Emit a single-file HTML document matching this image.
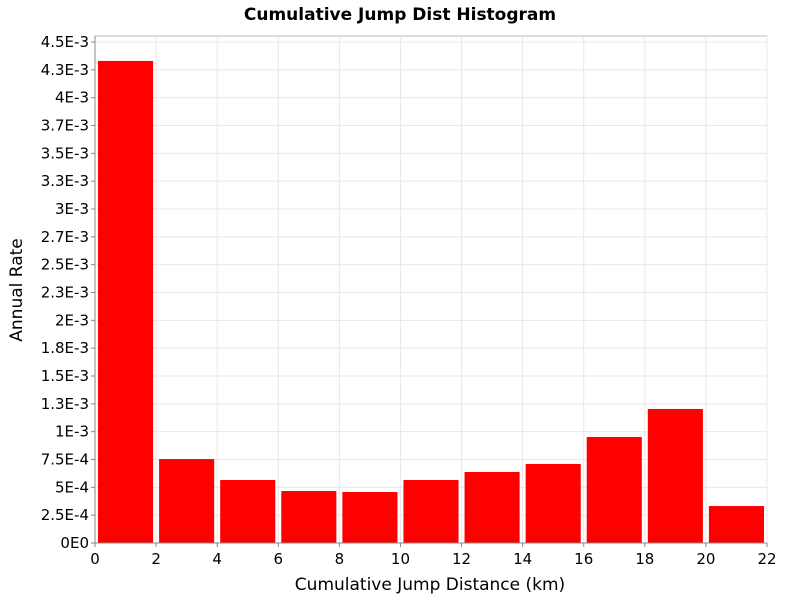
<!DOCTYPE html>
<html><head><meta charset="utf-8"><style>
body{margin:0;background:#fff;font-family:"DejaVu Sans","Liberation Sans",sans-serif}
</style></head><body>
<svg width="800" height="600" id="c" font-family="DejaVu Sans, Liberation Sans, sans-serif">
<text x="400" y="20" text-anchor="middle" font-size="17" font-weight="bold">Cumulative Jump Dist Histogram</text>
<text x="430" y="590" text-anchor="middle" font-size="17">Cumulative Jump Distance (km)</text>
<text transform="translate(22,290) rotate(-90)" text-anchor="middle" font-size="17">Annual Rate</text>
<g id="grid"></g><g id="bars"></g><g id="axes"></g>
</svg>
<script>
const binStarts=[0,2,4,6,8,10,12,14,16,18,20];
const rates=[4.33e-3,0.754e-3,0.566e-3,0.467e-3,0.458e-3,0.566e-3,0.638e-3,0.71e-3,0.952e-3,1.204e-3,0.332e-3];
const yTicks=[0,2.5e-4,5e-4,7.5e-4,1e-3,1.25e-3,1.5e-3,1.75e-3,2e-3,2.25e-3,2.5e-3,2.75e-3,3e-3,3.25e-3,3.5e-3,3.75e-3,4e-3,4.25e-3,4.5e-3];
const yLabels=["0E0","2.5E-4","5E-4","7.5E-4","1E-3","1.3E-3","1.5E-3","1.8E-3","2E-3","2.3E-3","2.5E-3","2.7E-3","3E-3","3.3E-3","3.5E-3","3.7E-3","4E-3","4.3E-3","4.5E-3"];
const xTicks=[0,2,4,6,8,10,12,14,16,18,20,22];
const binWidth=2;
const L=95,R=767,T=36,B=543;
const xs=v=>L+v/22*(R-L);
const ys=v=>B-v/4.5e-3*(B-42);
const NS="http://www.w3.org/2000/svg";
function mk(p,t,a){const e=document.createElementNS(NS,t);for(const k in a)e.setAttribute(k,a[k]);p.appendChild(e);return e;}
const g=document.getElementById('grid'),b=document.getElementById('bars'),ax=document.getElementById('axes');
const bg=mk(g,'rect',{x:L,y:T,width:R-L,height:B-T,fill:'#fff',stroke:'#bbb'});


yTicks.forEach((v,i)=>{
 const y=ys(v);
 const l=mk(g,'line',{x1:L,x2:R,y1:y,y2:y,stroke:'#e8e8e8'});
 
 
 mk(ax,'line',{x1:L-4,x2:L,y1:y,y2:y,stroke:'#888'});
 const t=mk(ax,'text',{x:L-6,y:y+5,'text-anchor':'end','font-size':15});
 t.textContent=yLabels[i];
 
 
});
xTicks.forEach(v=>{
 const x=xs(v);
 const l=mk(g,'line',{x1:x,x2:x,y1:T,y2:B,stroke:'#e8e8e8'});
 
 
 mk(ax,'line',{x1:x,x2:x,y1:B,y2:B+4,stroke:'#888'});
 const t=mk(ax,'text',{x:x,y:B+21,'text-anchor':'middle','font-size':15});
 t.textContent=v;
 
 
});
binStarts.forEach((s,i)=>{
 const x0=xs(s)+3,x1=xs(s+binWidth)-3,y=ys(rates[i]);
 const r=mk(b,'rect',{x:x0,y:y,width:x1-x0,height:B-y,fill:'#ff0000'});
 
 
});
mk(ax,'line',{x1:L,x2:L,y1:T,y2:B,stroke:'#888'});
mk(ax,'line',{x1:L,x2:R,y1:B,y2:B,stroke:'#888'});
</script>
</body></html>
